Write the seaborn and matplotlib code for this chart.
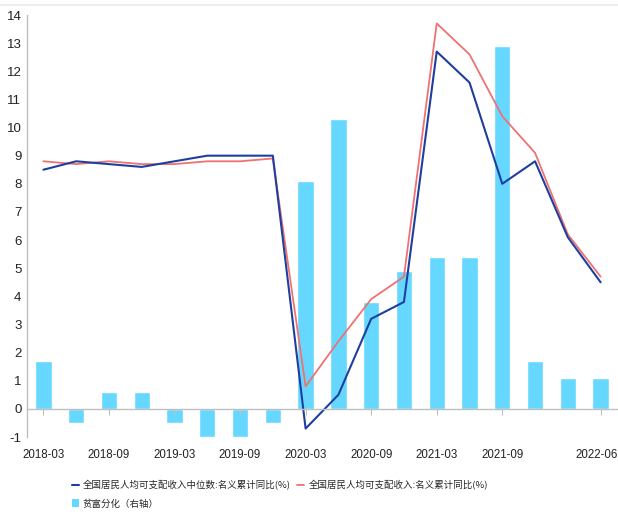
import matplotlib
matplotlib.use("Agg")
import matplotlib.pyplot as plt
from matplotlib.lines import Line2D
from matplotlib.patches import Patch
from matplotlib.transforms import blended_transform_factory
import seaborn as sns
import numpy as np
import pandas as pd

# Quarterly periods
quarters = ["2018-03", "2018-06", "2018-09", "2018-12",
            "2019-03", "2019-06", "2019-09", "2019-12",
            "2020-03", "2020-06", "2020-09", "2020-12",
            "2021-03", "2021-06", "2021-09", "2021-12",
            "2022-03", "2022-06"]

# Median per-capita disposable income, nominal cumulative YoY (%)
median_yoy = [8.5, 8.8, 8.7, 8.6, 8.8, 9.0, 9.0, 9.0,
              -0.7, 0.5, 3.2, 3.8, 12.7, 11.6, 8.0, 8.8, 6.1, 4.5]

# Mean per-capita disposable income, nominal cumulative YoY (%)
mean_yoy = [8.8, 8.7, 8.8, 8.7, 8.7, 8.8, 8.8, 8.9,
            0.8, 2.4, 3.9, 4.7, 13.7, 12.6, 10.4, 9.1, 6.2, 4.7]

# Wealth gap indicator (right axis)
gap = [1.7, -0.5, 0.6, 0.6, -0.5, -1.0, -1.0, -0.5,
       8.1, 10.3, 3.8, 4.9, 5.4, 5.4, 12.9, 1.7, 1.1, 1.1]

# Labelled ticks along the time axis
tick_labels = ["2018-03", "2018-09", "2019-03", "2019-09", "2020-03",
               "2020-09", "2021-03", "2021-09", "2022-06"]

label_median = "全国居民人均可支配收入中位数:名义累计同比(%)"
label_mean = "全国居民人均可支配收入:名义累计同比(%)"
label_gap = "贫富分化（右轴）"

c_blue = "#1f3f9e"
c_red = "#ee7272"
c_bar = "#66d8ff"
c_axis = "#bfbfbf"
c_text = "#222222"

sns.set_theme(style="white")
num_font = ["Liberation Sans Narrow", "Liberation Sans", "DejaVu Sans"]
cjk_font = ["Noto Sans CJK SC", "DejaVu Sans"]
plt.rcParams["font.family"] = num_font

df = pd.DataFrame({"quarter": quarters, "pos": np.arange(len(quarters)),
                   "median": median_yoy, "mean": mean_yoy, "gap": gap})

fig = plt.figure(figsize=(6.18, 5.16), dpi=100)
ax = fig.add_axes([27 / 618, 1 - 437 / 516, 590 / 618, 422 / 516])
ax2 = ax.twinx()

# Bars on the (hidden) right axis
sns.barplot(data=df, x="pos", y="gap", color=c_bar, width=0.5,
            saturation=1, native_scale=True, ax=ax2, zorder=1)

# Lines on the left axis, drawn above the bars
sns.lineplot(data=df, x="pos", y="mean", color=c_red, linewidth=1.3, ax=ax)
sns.lineplot(data=df, x="pos", y="median", color=c_blue, linewidth=1.5, ax=ax)

ax.set_zorder(ax2.get_zorder() + 1)
ax.patch.set_visible(False)

for a in (ax, ax2):
    a.set_xlim(-0.5, len(quarters) - 0.5)
    a.set_ylim(-1, 14)
    a.set_xlabel("")
    a.set_ylabel("")

ax2.set_yticks([])
for s in ax2.spines.values():
    s.set_visible(False)
ax2.tick_params(axis="x", bottom=False, labelbottom=False)

ax.set_yticks(range(-1, 15))
ax.set_yticklabels([str(v) for v in range(-1, 15)])
ax.tick_params(axis="y", length=0, pad=4, labelsize=9.5, labelcolor=c_text)

# Tick marks hang from the zero line; labels sit below the plot area
tick_pos = [quarters.index(q) for q in tick_labels]
ax.set_xticks(tick_pos)
ax.tick_params(axis="x", bottom=True, direction="out", length=4, width=0.8,
               color=c_axis, labelbottom=False)
lab_tr = blended_transform_factory(ax.transData, fig.transFigure)
for p, q in zip(tick_pos, tick_labels):
    last = p == len(quarters) - 1
    ax.text(p + 0.52 if last else p, 1 - 455 / 516, q,
            ha="right" if last else "center", va="center",
            fontsize=8.3, color=c_text, transform=lab_tr)

ax.spines["bottom"].set_position(("data", 0))
ax.spines["bottom"].set_color(c_axis)
ax.spines["bottom"].set_linewidth(1.0)
ax.spines["left"].set_color(c_axis)
ax.spines["left"].set_linewidth(1.0)
ax.spines["top"].set_visible(False)
ax.spines["right"].set_visible(False)

# Faint frame line at the top of the figure
fig.add_artist(Line2D([0, 1], [1 - 5 / 516, 1 - 5 / 516], color="#eeeeee",
                      linewidth=1.5, transform=fig.transFigure))

handles = [Line2D([], [], color=c_blue, linewidth=1.5),
           Patch(facecolor=c_bar, edgecolor="none"),
           Line2D([], [], color=c_red, linewidth=1.3)]
labels = [label_median, label_gap, label_mean]
fig.legend(handles, labels, ncol=2, loc="upper left",
           bbox_to_anchor=(72 / 618, 1 - 480 / 516), frameon=False,
           prop={"family": cjk_font, "size": 6.8}, handlelength=0.7,
           handleheight=0.9, handletextpad=0.45, columnspacing=0.7,
           labelspacing=0.95, borderaxespad=0, borderpad=0)

fig.savefig("out.png", dpi=100)
